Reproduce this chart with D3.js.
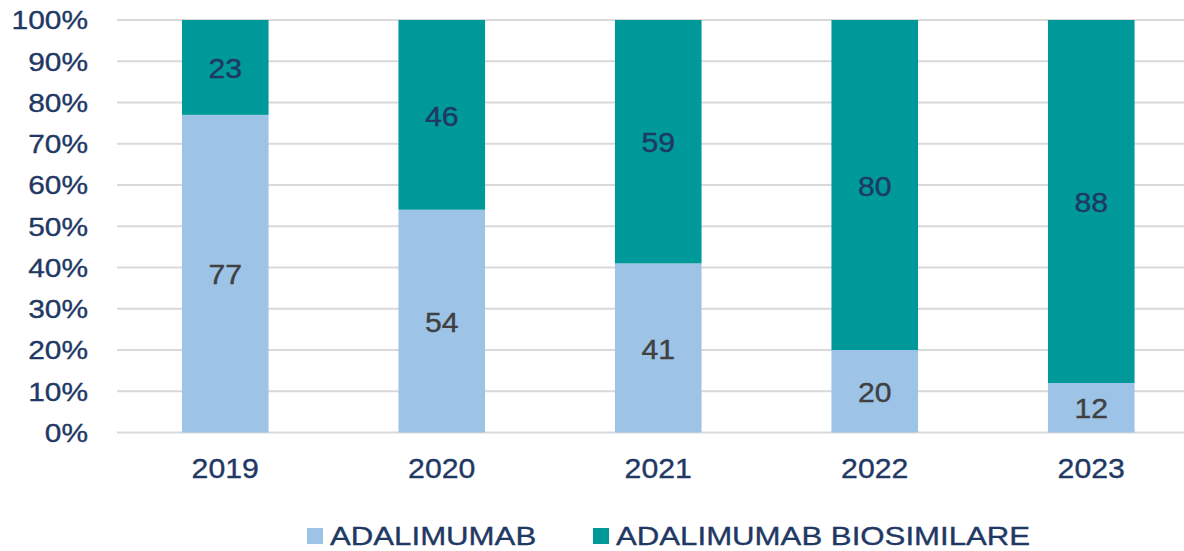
<!doctype html>
<html>
  <head>
    <script src="https://cdn.jsdelivr.net/npm/d3@7/dist/d3.min.js"></script>
    <style>
      body { margin: 0; background: #fff; }
      text { font-family: "Liberation Sans", Arial, sans-serif; stroke-width: 0.35px; }
    </style>
  </head>
  <body>
    <script>
        var years = ["2019", "2020", "2021", "2022", "2023"];
        var adalimumab = [77, 54, 41, 20, 12];
        var biosimilare = [23, 46, 59, 80, 88];
        var yTicks = [0, 10, 20, 30, 40, 50, 60, 70, 80, 90, 100];
        var seriesNames = ["ADALIMUMAB", "ADALIMUMAB BIOSIMILARE"];
        var colors = ["#9dc3e6", "#009999"];
        var labelColors = ["#404040", "#1f3864"];

        var W = 1184, H = 551;
        var navy = "#1f3864";
        var sx = 1.12; // text looks horizontally stretched in the original

        var svg = d3.select("body").append("svg")
            .attr("width", W)
            .attr("height", H);

        var x = d3.scaleBand()
            .domain(years)
            .range([117, 117 + 5 * 216.5])
            .paddingInner(0.6)
            .paddingOuter(0.3);

        var y = d3.scaleLinear()
            .domain([0, 100])
            .range([432.5, 20]);

        // gridlines
        svg.append("g").selectAll("line")
            .data(yTicks)
            .enter().append("line")
            .attr("x1", 117).attr("x2", W)
            .attr("y1", d => y(d)).attr("y2", d => y(d))
            .attr("stroke", "#d9d9d9")
            .attr("stroke-width", 2);

        // y tick labels
        svg.append("g").selectAll("text")
            .data(yTicks)
            .enter().append("text")
            .attr("transform", d => `translate(88,${y(d)}) scale(1.15,1)`)
            .attr("dy", "0.36em")
            .attr("text-anchor", "end")
            .attr("font-size", 26)
            .attr("fill", navy)
            .attr("stroke", navy)
            .text(d => d + "%");

        var data = years.map(function(yr, i) {
            return { year: yr, a: adalimumab[i], b: biosimilare[i] };
        });

        var stack = d3.stack().keys(["a", "b"]);
        var series = stack(data);

        series.forEach(function(s, si) {
            var g = svg.append("g");
            g.selectAll("rect")
                .data(s)
                .enter().append("rect")
                .attr("x", d => x(d.data.year))
                .attr("y", d => y(d[1]))
                .attr("width", x.bandwidth())
                .attr("height", d => y(d[0]) - y(d[1]))
                .attr("fill", colors[si]);

            g.selectAll("text")
                .data(s)
                .enter().append("text")
                .attr("transform", d => `translate(${x(d.data.year) + x.bandwidth() / 2},${(y(d[0]) + y(d[1])) / 2 + 1}) scale(${sx},1)`)
                .attr("dy", "0.36em")
                .attr("text-anchor", "middle")
                .attr("font-size", 27)
                .attr("fill", labelColors[si])
                .attr("stroke", labelColors[si])
                .text(d => d[1] - d[0]);
        });

        // x labels
        svg.append("g").selectAll("text")
            .data(years)
            .enter().append("text")
            .attr("transform", d => `translate(${x(d) + x.bandwidth() / 2},478) scale(${sx},1)`)
            .attr("text-anchor", "middle")
            .attr("font-size", 27)
            .attr("fill", navy)
            .attr("stroke", navy)
            .text(d => d);

        // legend
        var legendX = [307, 593];
        var legend = svg.append("g").selectAll("g")
            .data(seriesNames)
            .enter().append("g")
            .attr("transform", (d, i) => `translate(${legendX[i]},0)`);

        legend.append("rect")
            .attr("x", 0).attr("y", 528)
            .attr("width", 16).attr("height", 16)
            .attr("fill", (d, i) => colors[i]);

        legend.append("text")
            .attr("transform", `translate(23,545) scale(1.2,1)`)
            .attr("font-size", 26)
            .attr("fill", navy)
            .attr("stroke", navy)
            .text(d => d);
    </script>
  </body>
</html>
